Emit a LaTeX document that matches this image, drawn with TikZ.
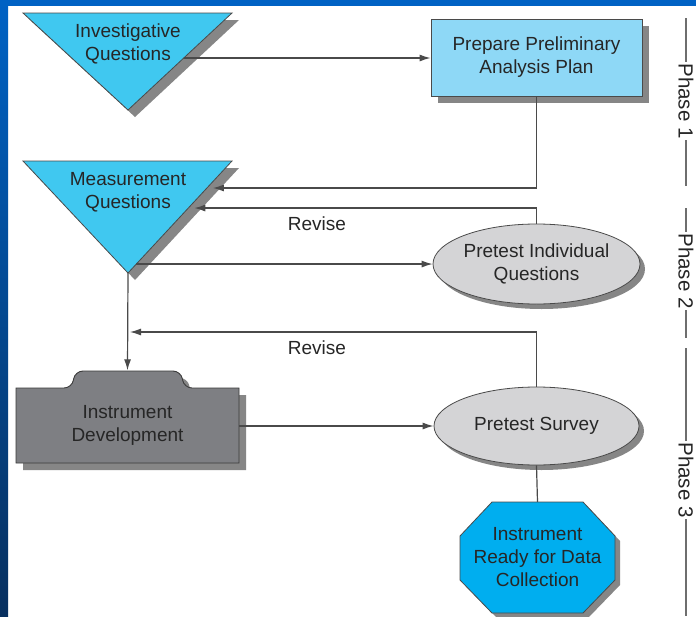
\documentclass[tikz,border=0pt]{standalone}
\usepackage{fontspec}
\setmainfont{Liberation Sans}
\usetikzlibrary{arrows.meta,shapes.geometric,shadows,calc,positioning}
\definecolor{triblue}{HTML}{40C8F0}
\definecolor{boxblue}{HTML}{8ED8F6}
\definecolor{ovalgray}{HTML}{D4D4D6}
\definecolor{devgray}{HTML}{7E7F83}
\definecolor{stopblue}{HTML}{00AEEF}
\definecolor{shadowgray}{HTML}{868686}
\definecolor{linegray}{HTML}{4A4A4A}
\definecolor{txt}{HTML}{262626}
\definecolor{frametop}{HTML}{0062C4}
\definecolor{framelow}{HTML}{08305F}
\tikzset{
    flow/.style={draw=linegray, line width=1.2pt, ->},
    link/.style={draw=linegray, line width=1.2pt},
    shadeseven/.style={drop shadow={shadow xshift=7pt, shadow yshift=-7pt, fill=shadowgray, opacity=1}},
    shadefive/.style={drop shadow={shadow xshift=5pt, shadow yshift=-5pt, fill=shadowgray, opacity=1}},
    question/.style={draw=linegray, line width=0.8pt, fill=triblue, shadeseven},
    planbox/.style={draw=linegray, line width=0.8pt, fill=boxblue, shadeseven,
        minimum width=211pt, minimum height=77pt},
    pretest/.style={ellipse, draw=linegray, line width=0.8pt, fill=ovalgray, shadefive, inner sep=0pt},
    instr/.style={draw=linegray!80!black, line width=0.9pt, fill=devgray, shadeseven},
    readystop/.style={draw=linegray, line width=0.8pt, fill=stopblue, shadefive},
    phasetext/.style={rotate=-90, inner sep=1.5pt, font=\fontsize{20.5}{20.5}\selectfont},
    phaseline/.style={draw=linegray!80, line width=1.1pt}
}

\begin{document}
\begin{tikzpicture}[x=1pt,y=-1pt,>={Latex[length=11pt,width=7pt]},
    every node/.style={font=\fontsize{19}{23}\selectfont, text=txt, align=center}]
	% frame of the slide
	\useasboundingbox (0,0) rectangle (696,616);
	\fill[white] (0,0) rectangle (696,616);
	\shade[top color=frametop, bottom color=framelow] (0,0) rectangle (8,616);
	\fill[frametop] (0,0) rectangle (696,6);

	% phase 1
	\draw[question] (23,13) coordinate (inv-l) -- (232,13) coordinate (inv-r) -- (128,110) coordinate (inv-p) -- cycle;
	\node (inv) at (128,44) {Investigative\\Questions};
	\node[planbox] (prep) at (536.5,57.5) {Prepare Preliminary\\Analysis Plan};
	\draw[question] (23,161) coordinate (meas-l) -- (232,161) coordinate (meas-r) -- (128,273) coordinate (meas-p) -- cycle;
	\node (meas) at (128,192) {Measurement\\Questions};

	% phase 2
	\node[pretest, minimum width=207pt, minimum height=80pt] (pin) at (536.5,264) {Pretest Individual\\Questions};
	\draw[instr] (16,388) [rounded corners=8pt] -- (72,388) -- (75,371) -- (181,371) -- (184,388) [sharp corners] -- (239,388) -- (239,463) -- (16,463) -- cycle;
	\node[minimum width=223pt, minimum height=75pt] (dev) at (127.5,425.5) {Instrument\\Development};

	% phase 3
	\node[pretest, minimum width=205pt, minimum height=78pt] (ps) at (536.5,426) {Pretest Survey};
	\draw[readystop] (492,502) -- (583,502) -- (615,536) -- (615,580) -- (583,613) -- (492,613) -- (460,580) -- (460,536) -- cycle;
	\node[minimum width=155pt, minimum height=111pt] (ready) at (537.5,557.5) {Instrument\\Ready for Data\\Collection};

	% connectors
	\coordinate (inv-o) at ($(inv-r)!0.464!(inv-p)$);
	\coordinate (meas-a) at ($(meas-r)!0.241!(meas-p)+(6,0)$);
	\coordinate (meas-b) at ($(meas-r)!0.42!(meas-p)+(6,0)$);
	\coordinate (meas-c) at ($(meas-r)!0.92!(meas-p)$);
	\coordinate (rv) at (130,332);
	\draw[flow] (inv-o) -- (inv-o -| prep.west);
	\draw[flow] (prep.south) |- (meas-a);
	\draw[flow] (pin.north) |- (meas-b);
	\draw[flow] (meas-c) -- (meas-c -| pin.west);
	\draw[flow] (meas-p) -- ([yshift=17.5pt]dev.north);
	\draw[flow] (ps.north) |- (rv);
	\draw[flow] (dev.east |- ps.west) -- (ps.west);
	\draw[link] (ps.south) -- (ready.north);
	\node (rev1) at (317,224) {Revise};
	\node (rev2) at (317,348) {Revise};

	% phases
	\node[phasetext] (ph1) at (686,101) {Phase 1};
	\node[phasetext] (ph2) at (686,271) {Phase 2};
	\node[phasetext] (ph3) at (686,480) {Phase 3};
	\draw[phaseline] (686,18) -- (ph1.west);
	\draw[phaseline] (ph1.east) -- (686,186);
	\draw[phaseline] (686,208) -- (ph2.west);
	\draw[phaseline] (ph2.east) -- (686,338);
	\draw[phaseline] (686,348) -- (ph3.west);
	\draw[phaseline] (ph3.east) -- (686,616);
\end{tikzpicture}
\end{document}
